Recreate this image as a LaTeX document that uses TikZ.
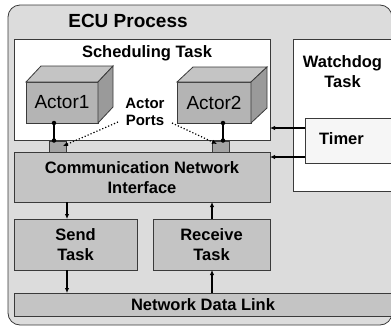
\documentclass[tikz,border=0pt]{standalone}
\usepackage{fontspec}
\setmainfont{Liberation Sans}
\usetikzlibrary{arrows.meta}
\definecolor{outerfill}{HTML}{DCDCDC}
\definecolor{boxfill}{HTML}{C4C4C4}
\definecolor{frontfill}{HTML}{B4B4B4}
\definecolor{topfill}{HTML}{C4C4C4}
\definecolor{sidefill}{HTML}{9A9A9A}
\definecolor{timerfill}{HTML}{F6F6F6}
\definecolor{edge}{HTML}{3A3A3A}
\begin{document}
\begin{tikzpicture}[x=1pt,y=-1pt,
  frame/.style={draw=edge,line width=0.8pt,inner sep=0pt,outer sep=0pt},
  plainbox/.style={frame,fill=white},
  greybox/.style={frame,fill=boxfill},
  facebox/.style={frame,fill=frontfill},
  portbox/.style={frame,fill=sidefill!90!white,minimum width=17pt,minimum height=11pt},
  title/.style={font=\fontsize{19}{22}\selectfont\bfseries},
  label/.style={font=\fontsize{16.5}{20}\selectfont\bfseries,align=center,inner sep=0pt},
  actortext/.style={font=\fontsize{19}{22}\selectfont,inner sep=0pt},
  smalllabel/.style={font=\fontsize{15}{17.5}\selectfont\bfseries,align=center,inner sep=0pt},
  flow/.style={line width=1.3pt,-{Latex[length=5pt,width=4.5pt]}},
  pointer/.style={line width=1.2pt,dotted,-{Latex[length=5pt,width=4.5pt]}},
  link/.style={line width=1.6pt},
  joint/.style={circle,fill=black,inner sep=0pt,minimum size=4.5pt}
]
\useasboundingbox (0,0) rectangle (391,327);
\clip (0,0) rectangle (391,327);

% outer process container
\node[frame,fill=outerfill,rounded corners=12pt,minimum width=384pt,minimum height=320pt] (ecu) at (200,165) {};
\node[title,inner sep=0pt] (ecut) at (128,21) {ECU Process};

% scheduling and watchdog tasks
\node[plainbox,minimum width=256pt,minimum height=101pt] (sched) at (142,89.5) {};
\node[label] (schedt) at (147,53) {Scheduling Task};
\node[plainbox,minimum width=110pt,minimum height=152pt] (wd) at (348,115) {};
\node[label] (wdt) at (342.5,71.5) {Watchdog\\Task};
\node[frame,fill=timerfill,minimum width=95pt,minimum height=45pt] (timer) at (352.5,140.5) {};
\node[label,anchor=west] (timert) at (319,139) {Timer};

% actors drawn as boxes with top and side faces
\node[facebox,minimum width=72pt,minimum height=41pt] (a1) at (62,102.5) {};
\draw[frame,fill=topfill] (a1.north west) -- ++(15,-16) -- ++(72,0) -- (a1.north east) -- cycle;
\draw[frame,fill=sidefill] (a1.north east) -- ++(15,-16) -- ++(0,41) -- (a1.south east) -- cycle;
\node[actortext] (a1t) at (a1) {Actor1};

\node[facebox,minimum width=74pt,minimum height=41pt] (a2) at (214,102.5) {};
\draw[frame,fill=topfill] (a2.north west) -- ++(16,-15) -- ++(74,0) -- (a2.north east) -- cycle;
\draw[frame,fill=sidefill] (a2.north east) -- ++(16,-15) -- ++(0,41) -- (a2.south east) -- cycle;
\node[actortext] (a2t) at (a2) {Actor2};

\node[smalllabel] (ports) at (145,112) {Actor\\Ports};

% communication stack
\node[greybox,minimum width=256pt,minimum height=50pt] (cni) at (142,177) {};
\node[label] (cnit) at (142,177.5) {Communication Network\\Interface};
\node[portbox] (p1) at (57.5,146.5) {};
\node[portbox] (p2) at (220.5,146.5) {};

\node[greybox,minimum width=123pt,minimum height=51pt] (send) at (75.5,244.5) {};
\node[label] (sendt) at (send) {Send\\Task};
\node[greybox,minimum width=117pt,minimum height=51pt] (recv) at (211.5,244.5) {};
\node[label] (recvt) at (recv) {Receive\\Task};

\node[greybox,minimum width=390pt,minimum height=23pt] (ndl) at (209,304.5) {};
\node[label] (ndlt) at (203,305) {Network Data Link};

% actor-to-port links
\coordinate (j1a) at (a1.south -| 54,0);
\coordinate (j1b) at (54,140.5);
\coordinate (j2a) at (a2.south -| 223,0);
\coordinate (j2b) at (223,140.5);
\draw[link] (j1a) -- (j1b);
\draw[link] (j2a) -- (j2b);
\node[joint] at (j1a) {};
\node[joint] at (j1b) {};
\node[joint] at (j2a) {};
\node[joint] at (j2b) {};

% port annotations
\coordinate (q1) at (118,122);
\coordinate (q2) at (172,123);
\draw[pointer] (q1) -- (63,146);
\draw[pointer] (q2) -- (217,144);

% timer signals
\draw[flow] (timer.west |- 0,128) -- (sched.east |- 0,128);
\draw[flow] (timer.west |- 0,157) -- (cni.east |- 0,157);

% data flow
\draw[flow] (cni.south -| 67,0) -- (send.north -| 67,0);
\draw[flow] (send.south -| 67,0) -- (ndl.north -| 67,0);
\draw[flow] (ndl.north -| 212,0) -- (recv.south -| 212,0);
\draw[flow] (recv.north -| 212,0) -- (cni.south -| 212,0);
\end{tikzpicture}
\end{document}
